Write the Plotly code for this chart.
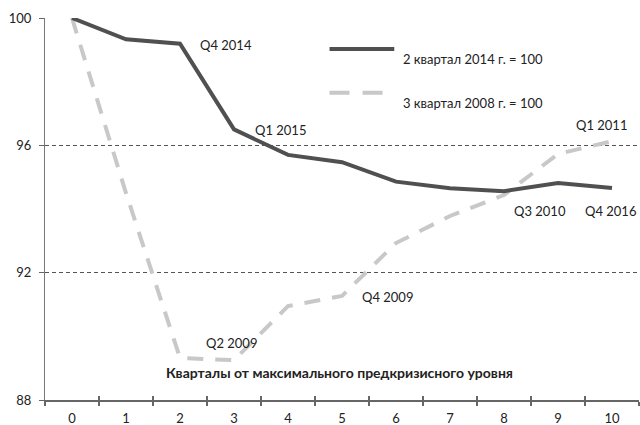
import plotly.graph_objects as go

quarters = ["0", "1", "2", "3", "4", "5", "6", "7", "8", "9", "10"]
series_2014 = [100, 99.33, 99.19, 96.5, 95.7, 95.47, 94.86, 94.65, 94.56, 94.82, 94.66]
series_2008 = [100, 94.5, 89.32, 89.25, 90.95, 91.27, 92.93, 93.78, 94.44, 95.73, 96.13]
name_2014 = "2 квартал 2014 г. = 100"
name_2008 = "3 квартал 2008 г. = 100"
x_title = "Кварталы от максимального предкризисного уровня"
y_ticks = [88, 92, 96, 100]

# point labels: (text, x position in category units, y value)
point_labels = [
    ("Q4 2014", 2.85, 99.15),
    ("Q1 2015", 3.86, 96.48),
    ("Q2 2009", 2.96, 89.79),
    ("Q4 2009", 5.84, 91.23),
    ("Q3 2010", 8.67, 93.94),
    ("Q4 2016", 9.98, 93.94),
    ("Q1 2011", 9.80, 96.64),
]

FONT = "Lato"
DARK = "#505050"
LIGHT = "#c8c8c8"

fig = go.Figure()
fig.add_trace(go.Scatter(x=quarters, y=series_2008, mode="lines", name=name_2008,
                         line=dict(color=LIGHT, width=4, dash="16px,12px"), showlegend=False))
fig.add_trace(go.Scatter(x=quarters, y=series_2014, mode="lines", name=name_2014,
                         line=dict(color=DARK, width=4), showlegend=False))
# invisible trace to activate overlay axis for crossing ticks
fig.add_trace(go.Scatter(x=quarters, y=[None] * len(quarters), xaxis="x2", showlegend=False,
                         hoverinfo="skip"))

for text, xv, yv in point_labels:
    fig.add_annotation(x=xv, y=yv, xref="x", yref="y", text=text, showarrow=False,
                       font=dict(family=FONT, size=13, color="#222222"))

fig.add_annotation(x=0.496, y=0.045, xref="paper", yref="paper", text="<b>" + x_title + "</b>",
                   showarrow=False, font=dict(family=FONT, size=14, color="#222222"))

# manual legend
fig.add_shape(type="line", xref="paper", yref="paper", x0=0.479, x1=0.588, y0=0.919, y1=0.919,
              line=dict(color=DARK, width=4))
fig.add_shape(type="line", xref="paper", yref="paper", x0=0.479, x1=0.588, y0=0.804, y1=0.804,
              line=dict(color=LIGHT, width=4, dash="20px,13px"))
fig.add_annotation(x=0.599, y=0.919, xref="paper", yref="paper", text=name_2014, showarrow=False,
                   xanchor="left", font=dict(family=FONT, size=13, color="#222222"))
fig.add_annotation(x=0.599, y=0.804, xref="paper", yref="paper", text=name_2008, showarrow=False,
                   xanchor="left", font=dict(family=FONT, size=13, color="#222222"))

fig.update_layout(
    width=640, height=425,
    margin=dict(l=45, r=1, t=18, b=25),
    paper_bgcolor="white", plot_bgcolor="white",
    font=dict(family=FONT, size=13, color="#222222"),
    xaxis=dict(type="category", range=[-0.5, 10.5], tickson="boundaries", ticks="outside",
               ticklen=4, tickwidth=2, tickcolor="#666666", showline=True, linecolor="#666666",
               linewidth=2, showgrid=False, zeroline=False, fixedrange=True, automargin=False,
               ticklabelstandoff=5, tickfont=dict(family=FONT, size=13)),
    xaxis2=dict(type="category", overlaying="x", matches="x", side="bottom", anchor="y",
                range=[-0.5, 10.5], tickson="boundaries", ticks="inside", ticklen=4, tickwidth=2,
                tickcolor="#666666", showticklabels=False, showgrid=False, showline=False,
                zeroline=False),
    yaxis=dict(range=[88, 100], tickvals=y_ticks, ticks="outside", ticklen=5,
               tickcolor="#666666", showline=True, linecolor="#777777", linewidth=1,
               showgrid=True, gridcolor="#555555", griddash="4px,3px", gridwidth=1,
               zeroline=False, fixedrange=True, ticklabelstandoff=5,
               tickfont=dict(family=FONT, size=13)),
)

fig.write_html("out.html", config={"displayModeBar": False},
               post_script="document.body.style.margin='0';")
